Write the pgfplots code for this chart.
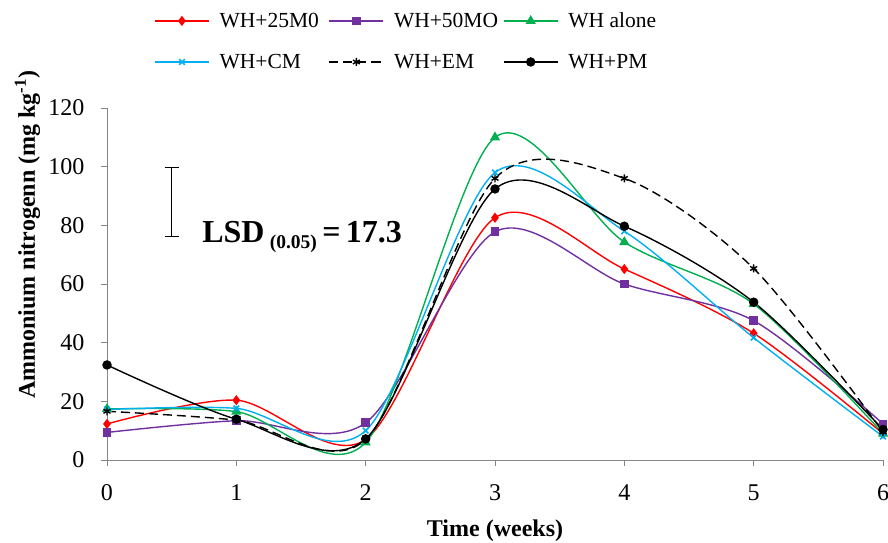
\documentclass[border=0pt]{standalone}
\usepackage{fontspec}
\setmainfont{Liberation Serif}
\usepackage{pgfplots}
\pgfplotsset{compat=1.18}
\definecolor{cred}{RGB}{255,0,0}
\definecolor{cpurple}{RGB}{112,48,160}
\definecolor{cgreen}{RGB}{0,176,80}
\definecolor{ccyan}{RGB}{0,176,240}
\definecolor{axgray}{RGB}{134,134,134}
\newcommand{\fs}{\fontsize{24}{28}\selectfont}
\newcommand{\fl}{\fontsize{24}{28}\selectfont}
\newcommand{\fg}{\fontsize{21.5}{25}\selectfont}
\begin{document}
\begin{tikzpicture}
\useasboundingbox (0,0) rectangle (888pt,542pt);
\begin{axis}[
  at={(107pt,82pt)}, anchor=south west,
  scale only axis, width=776pt, height=352pt,
  xmin=0, xmax=6, ymin=0, ymax=120,
  xtick={0,1,2,3,4,5,6}, ytick={0,20,40,60,80,100,120},
  axis x line*=bottom, axis y line*=left,
  axis line style={axgray, line width=1pt},
  tick style={axgray, line width=1pt},
  tick align=outside, major tick length=6pt,
  /pgf/number format/assume math mode=true,
  tick label style={font=\fs, black},
  xticklabel style={yshift=-15pt},
  yticklabel style={xshift=-13pt},
  xlabel={\textbf{Time (weeks)}},
  ylabel={\textbf{Ammonium nitrogenn (mg kg\textsuperscript{-1})}},
  label style={font=\fl},
  xlabel style={at={(rel axis cs:0.5,-0.201)}, anchor=center},
  ylabel style={at={(rel axis cs:-0.1025,0.64)}, anchor=center},
  legend columns=3,
  legend style={at={(rel axis cs:0.0606,1.277)}, anchor=north west, draw=none, font=\fg,
    inner sep=0pt, nodes={inner sep=2pt}, column sep=0pt, row sep=21pt},
  legend cell align=left,
  legend image code/.code={\draw[mark repeat=2,mark phase=2] plot coordinates {(0pt,0pt) (27pt,0pt) (54pt,0pt)}; \path (62pt,0pt);},
]
\addplot[cred, line width=1.4pt, smooth, tension=0.5, mark=diamond*, mark size=4pt, mark options={fill=cred}]
  coordinates {(0,12.3)(1,20.4)(2,7)(3,82.6)(4,65.1)(5,43.2)(6,9)};
\addlegendentry{\makebox[107pt][l]{WH+25M0}}
\addplot[cpurple, line width=1.4pt, smooth, tension=0.5, mark=square*, mark size=3.6pt, mark options={fill=cpurple}]
  coordinates {(0,9.4)(1,13.4)(2,12.7)(3,77.8)(4,60)(5,47.5)(6,12.3)};
\addlegendentry{\makebox[107pt][l]{WH+50MO}}
\addplot[cgreen, line width=1.4pt, smooth, tension=0.5, mark=triangle*, mark size=4.5pt, mark options={fill=cgreen}]
  coordinates {(0,17.4)(1,16.5)(2,6)(3,110)(4,74.3)(5,53.2)(6,9)};
\addlegendentry{WH alone}
\addplot[ccyan, line width=1.4pt, smooth, tension=0.5, mark=x, mark size=4pt, mark options={line width=1.6pt}]
  coordinates {(0,17.2)(1,17.6)(2,10)(3,98)(4,78)(5,41.7)(6,8)};
\addlegendentry{\makebox[107pt][l]{WH+CM}}
\addplot[black, line width=1.4pt, smooth, tension=0.5, dash pattern=on 9pt off 5pt, mark=asterisk, mark size=4pt, mark options={solid, line width=1.4pt}]
  coordinates {(0,16.6)(1,13.6)(2,7)(3,96)(4,96)(5,65.3)(6,9.5)};
\addlegendentry{\makebox[107pt][l]{WH+EM}}
\addplot[black, line width=1.4pt, smooth, tension=0.5, mark=*, mark size=4pt, mark options={fill=black}]
  coordinates {(0,32.4)(1,13.9)(2,7.2)(3,92.4)(4,79.7)(5,53.8)(6,10.4)};
\addlegendentry{WH+PM}
% LSD bar annotation
\draw[black, line width=1.2pt] (axis cs:0.5,99.8) -- (axis cs:0.5,76.2);
\draw[black, line width=1.2pt] (axis cs:0.445,99.8) -- (axis cs:0.555,99.8);
\draw[black, line width=1.2pt] (axis cs:0.445,76.2) -- (axis cs:0.555,76.2);
\node[anchor=base west, inner sep=0pt, font=\fontsize{32}{35}\selectfont\bfseries] at (axis cs:0.735,74)
  {LSD\,\raisebox{-6pt}{\fontsize{19.5}{22}\selectfont (0.05)}\,=\,17.3};
\end{axis}
\end{tikzpicture}
\end{document}
